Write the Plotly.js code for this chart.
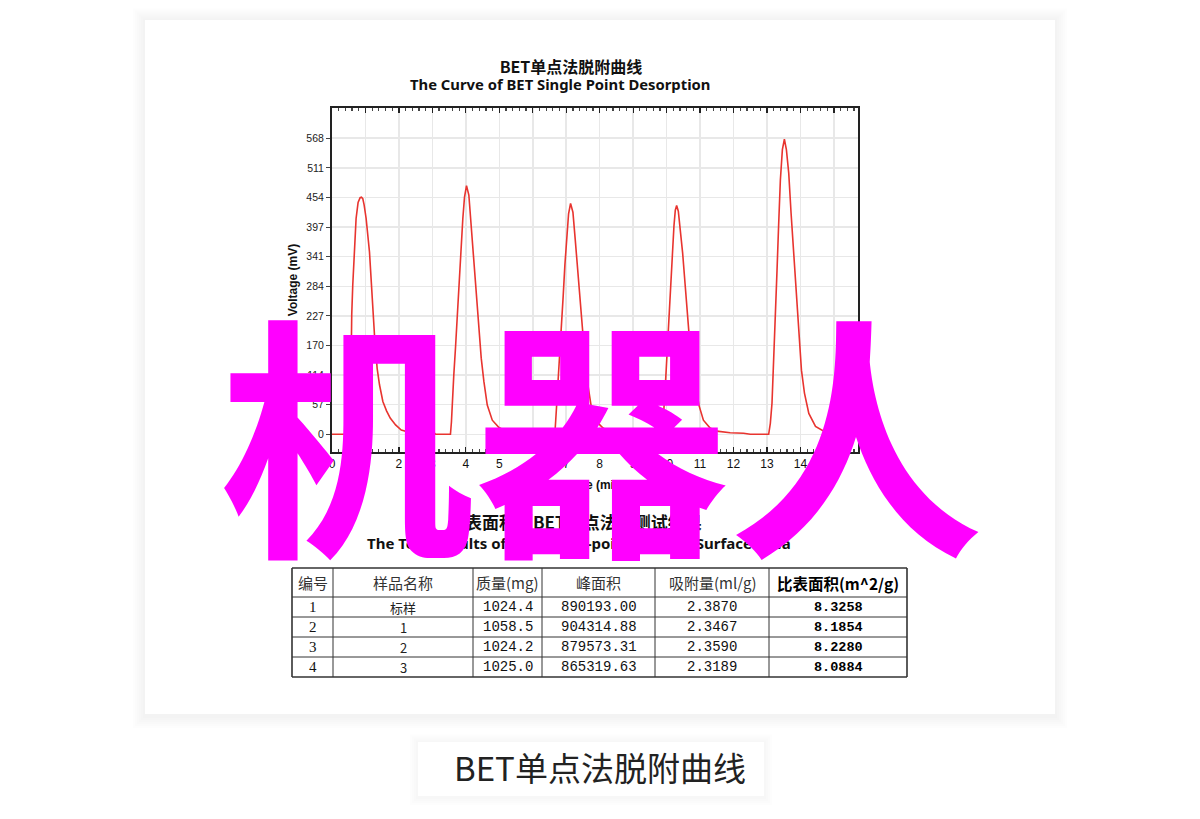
<!DOCTYPE html>
<html>
<head>
<meta charset="utf-8">
<script src="https://cdn.plot.ly/plotly-3.0.1.min.js"></script>
<style>
  html, body { margin: 0; padding: 0; background: #ffffff; }
  #chart { width: 1200px; height: 819px; }
</style>
</head>
<body>
<div id="chart"></div>
<script>
// ---------- data ----------
const time = [0, 0.54, 0.55, 0.56, 0.57, 0.59, 0.62, 0.66, 0.72, 0.78, 0.84, 0.88, 0.92, 0.96, 1.02, 1.12, 1.19, 1.24, 1.27, 1.35, 1.42, 1.52, 1.63, 1.74, 1.90, 2.07, 2.30, 2.70, 3.05, 3.10,
  3.54, 3.57, 3.59, 3.64, 3.69, 3.74, 3.79, 3.84, 3.91, 3.96, 4.02, 4.09, 4.16, 4.24, 4.32, 4.39, 4.46, 4.54, 4.64, 4.79, 4.99, 5.20, 5.50, 6.00, 6.30,
  6.66, 6.69, 6.71, 6.76, 6.81, 6.86, 6.91, 6.96, 7.02, 7.07, 7.13, 7.20, 7.27, 7.35, 7.43, 7.50, 7.57, 7.65, 7.75, 7.90, 8.10, 8.30, 8.60, 9.00, 9.30,
  9.86, 9.89, 9.92, 9.96, 10.01, 10.06, 10.11, 10.17, 10.22, 10.26, 10.30, 10.35, 10.41, 10.48, 10.56, 10.64, 10.71, 10.78, 10.87, 10.97, 11.10, 11.30, 11.50, 11.90, 12.30, 12.50,
  13.05, 13.10, 13.15, 13.20, 13.25, 13.30, 13.35, 13.40, 13.46, 13.52, 13.58, 13.65, 13.72, 13.80, 13.88, 13.95, 14.03, 14.12, 14.25, 14.45, 14.75, 15.00, 15.30, 15.72];
const voltage = [0, 0, 30, 100, 190, 230, 286, 350, 414, 445, 454, 455, 452, 440, 414, 350, 286, 222, 190, 126, 95, 63, 45, 31, 18, 8, 4, 3, 3, 0,
  0, 24, 56, 114, 165, 222, 286, 350, 414, 455, 477, 459, 402, 338, 274, 210, 146, 101, 56, 27, 13, 6, 3, 2, 0,
  0, 22, 52, 106, 153, 206, 266, 325, 385, 423, 443, 426, 373, 314, 254, 195, 136, 94, 52, 25, 12, 5, 2, 1, 0,
  0, 20, 50, 91, 150, 219, 280, 347, 400, 430, 439, 428, 395, 347, 282, 219, 160, 125, 91, 55, 27, 12, 6, 3, 2, 0,
  0, 21, 60, 136, 226, 315, 405, 488, 546, 566, 546, 501, 424, 341, 264, 187, 123, 79, 40, 15, 4, 2, 1, 0];

const xTickVals = [0, 1, 2, 3, 4, 5, 6, 7, 8, 9, 10, 11, 12, 13, 14, 15];
const yTickVals = [0, 56.8, 113.6, 170.4, 227.2, 284, 340.8, 397.6, 454.4, 511.2, 568];
const yTickText = ['0', '57', '114', '170', '227', '284', '341', '397', '454', '511', '568'];

const chartTitle = 'BET单点法脱附曲线';
const chartSubtitle = 'The Curve of BET Single Point Desorption';
const tableTitle = '比表面积（BET单点法）测试结果';
const tableSubtitle = 'The Test Results of BET Single-point Specific Surface Area';
const watermark = '机器人';
const caption = 'BET单点法脱附曲线';

const tableHeader = ['编号', '样品名称', '质量(mg)', '峰面积', '吸附量(ml/g)', '比表面积(m^2/g)'];
const colNo = ['1', '2', '3', '4'];
const colSample = ['标样', '1', '2', '3'];
const colMass = ['1024.4', '1058.5', '1024.2', '1025.0'];
const colPeakArea = ['890193.00', '904314.88', '879573.31', '865319.63'];
const colAdsorption = ['2.3870', '2.3467', '2.3590', '2.3189'];
const colSurface = ['8.3258', '8.1854', '8.2280', '8.0884'];

// ---------- layout helpers (pixel -> paper) ----------
const W = 1200, H = 819;
const px = x => x / W;
const py = y => 1 - y / H;

const CJK = '"Noto Sans CJK SC", "Noto Sans", sans-serif';
const SANS = '"Liberation Sans", Arial, sans-serif';
const MONO = '"Liberation Mono", "DejaVu Sans Mono", monospace';
const SERIF = '"Liberation Serif", serif';

// shadowed card shapes
function shadowRects(x0, y0, x1, y1, layers, step, dy, alpha) {
  const out = [];
  for (let i = layers; i >= 1; i--) {
    const e = i * step;
    out.push({type: 'rect', xref: 'paper', yref: 'paper', layer: 'below',
      x0: px(x0 - e), x1: px(x1 + e), y0: py(y1 + e + dy), y1: py(y0 - e + dy * 0.3),
      line: {width: 0}, fillcolor: 'rgba(0,0,0,' + alpha + ')'});
  }
  out.push({type: 'rect', xref: 'paper', yref: 'paper', layer: 'below',
    x0: px(x0), x1: px(x1), y0: py(y1), y1: py(y0),
    line: {width: 0}, fillcolor: '#ffffff'});
  return out;
}

// ---------- table drawn with shapes + annotations ----------
const colEdges = [292, 333, 473, 542, 655, 769, 907];
const rowEdges = [568, 597, 617, 637, 657, 677];
const tableColumns = [colNo, colSample, colMass, colPeakArea, colAdsorption, colSurface];
const colFonts = [
  {family: SERIF, size: 15, color: '#111'},
  {family: CJK, size: 13, color: '#222'},
  {family: MONO, size: 14, color: '#111'},
  {family: MONO, size: 14, color: '#111'},
  {family: MONO, size: 14, color: '#111'},
  {family: MONO, size: 13.5, color: '#000'}
];
const tableShapes = [];
rowEdges.forEach((y, i) => {
  const outer = (i === 0 || i === rowEdges.length - 1);
  tableShapes.push({type: 'line', xref: 'paper', yref: 'paper',
    x0: px(colEdges[0]), x1: px(colEdges[colEdges.length - 1]), y0: py(y), y1: py(y),
    line: {color: '#333', width: outer ? 1.6 : 1}});
});
colEdges.forEach((x, i) => {
  const outer = (i === 0 || i === colEdges.length - 1);
  tableShapes.push({type: 'line', xref: 'paper', yref: 'paper',
    x0: px(x), x1: px(x), y0: py(rowEdges[0]), y1: py(rowEdges[rowEdges.length - 1]),
    line: {color: '#333', width: outer ? 1.6 : 1}});
});
const tableAnnotations = [];
tableHeader.forEach((h, c) => {
  tableAnnotations.push({text: c === 5 ? '<b>' + h + '</b>' : h, xref: 'paper', yref: 'paper',
    x: px((colEdges[c] + colEdges[c + 1]) / 2), y: py((rowEdges[0] + rowEdges[1]) / 2),
    xanchor: 'center', yanchor: 'middle', showarrow: false,
    font: {family: CJK, size: c === 5 ? 15.5 : 15, color: c === 5 ? '#000' : '#333'}});
});
tableColumns.forEach((col, c) => {
  col.forEach((v, r) => {
    tableAnnotations.push({text: c === 5 ? '<b>' + v + '</b>' : v, xref: 'paper', yref: 'paper',
      x: px((colEdges[c] + colEdges[c + 1]) / 2), y: py((rowEdges[r + 1] + rowEdges[r + 2]) / 2),
      xanchor: 'center', yanchor: 'middle', showarrow: false, font: colFonts[c]});
  });
});

const shapes = [].concat(
  shadowRects(145, 20, 1055, 714, 6, 2, 2, 0.008),
  shadowRects(418, 742, 764, 796, 4, 2, 1, 0.008),
  tableShapes
);

const traces = [
  {
    type: 'scatter', mode: 'lines', x: time, y: voltage,
    line: {color: '#e8342f', width: 1.6},
    hoverinfo: 'x+y', showlegend: false
  }
];

const layout = {
  width: W, height: H,
  margin: {l: 0, r: 0, t: 0, b: 0},
  paper_bgcolor: '#ffffff',
  plot_bgcolor: 'rgba(0,0,0,0)',
  showlegend: false,
  title: {
    text: '<b>' + chartTitle + '</b>',
    x: px(571), xanchor: 'center', y: py(67), yanchor: 'middle',
    font: {family: CJK, size: 16, color: '#111'}
  },
  xaxis: {
    domain: [px(332), px(858)],
    range: [0, 15.72],
    tickmode: 'array', tickvals: xTickVals,
    ticks: 'inside', ticklen: 5, tickwidth: 1.2, tickcolor: '#222',
    minor: {dtick: 0.2, ticks: 'inside', ticklen: 3, tickcolor: '#444', showgrid: false},
    showline: true, linecolor: '#222', linewidth: 2, mirror: 'ticks',
    showgrid: true, gridcolor: '#e8e8e8', gridwidth: 1.5,
    zeroline: false,
    tickfont: {family: SANS, size: 12, color: '#111'},
    title: {text: '<b>Time (min)</b>', font: {family: SANS, size: 12, color: '#111'}, standoff: 10},
    fixedrange: true
  },
  yaxis: {
    domain: [py(452), py(108)],
    range: [-34, 626],
    tickmode: 'array', tickvals: yTickVals, ticktext: yTickText,
    ticks: 'outside', ticklen: 4, tickwidth: 1, tickcolor: '#444',
    showline: true, linecolor: '#222', linewidth: 2, mirror: true,
    showgrid: true, gridcolor: '#e8e8e8', gridwidth: 1.5,
    zeroline: false,
    tickfont: {family: SANS, size: 10.5, color: '#222'},
    title: {text: '<b>Voltage (mV)</b>', font: {family: SANS, size: 12, color: '#111'}, standoff: 6},
    fixedrange: true
  },
  shapes: shapes,
  annotations: [
    {text: '<b>' + chartSubtitle + '</b>', xref: 'paper', yref: 'paper', x: px(560), y: py(84),
     xanchor: 'center', yanchor: 'middle', showarrow: false,
     font: {family: '"Noto Sans", sans-serif', size: 14.8, color: '#111'}},
    {text: '<b>' + tableTitle + '</b>', xref: 'paper', yref: 'paper', x: px(575), y: py(521),
     xanchor: 'center', yanchor: 'middle', showarrow: false,
     font: {family: CJK, size: 17, color: '#111'}},
    {text: '<b>' + tableSubtitle + '</b>', xref: 'paper', yref: 'paper', x: px(579), y: py(543),
     xanchor: 'center', yanchor: 'middle', showarrow: false,
     font: {family: '"Noto Sans", sans-serif', size: 15, color: '#111'}}
  ].concat(tableAnnotations, [
    {text: '<b>' + watermark + '</b>', xref: 'paper', yref: 'paper', x: px(601), y: py(425),
     xanchor: 'center', yanchor: 'middle', showarrow: false,
     font: {family: CJK, size: 255, color: '#ff00ff'}},
    {text: caption, xref: 'paper', yref: 'paper', x: px(600), y: py(767),
     xanchor: 'center', yanchor: 'middle', showarrow: false,
     font: {family: CJK, size: 33, color: '#222'}}
  ])
};

Plotly.newPlot('chart', traces, layout, {displayModeBar: false, staticPlot: true});
</script>
</body>
</html>
